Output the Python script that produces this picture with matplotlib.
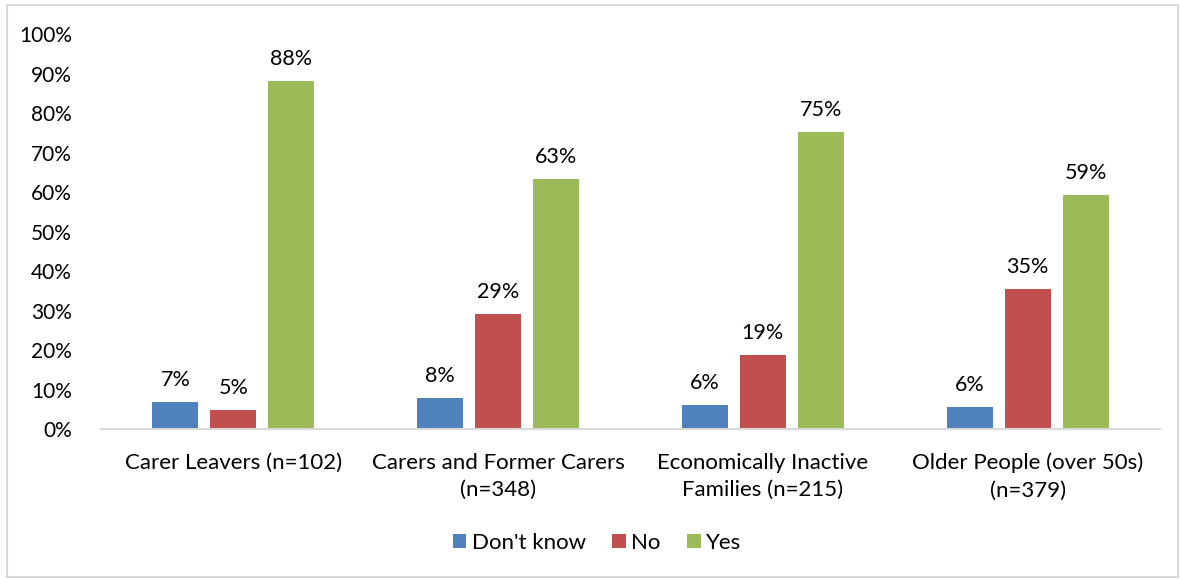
import numpy as np
import matplotlib.pyplot as plt
from matplotlib.patches import Rectangle

categories = ['Carer Leavers (n=102)', 'Carers and Former Carers\n(n=348)',
              'Economically Inactive\nFamilies (n=215)', 'Older People (over 50s)\n(n=379)']
dont_know = [7, 8, 6, 6]
no = [5, 29, 19, 35]
yes = [88, 63, 75, 59]
dont_know_h = [6.8, 7.8, 6.1, 5.6]
no_h = [4.8, 29.1, 18.7, 35.4]
yes_h = [88.1, 63.3, 75.2, 59.2]

plt.rcParams['font.family'] = ['Lato', 'DejaVu Sans']

fig = plt.figure(figsize=(11.8, 5.79), dpi=100)
ax = fig.add_axes([0.0856, 0.259, 0.8975, 0.682])

x = np.arange(len(categories))
w = 0.174
step = 0.219
series = [('Don\'t know', dont_know_h, dont_know, '#4f81bd'),
          ('No', no_h, no, '#c0504d'),
          ('Yes', yes_h, yes, '#9bbb59')]
for i, (name, h, lab, col) in enumerate(series):
    pos = x + (i - 1) * step
    ax.bar(pos, h, w, color=col, label=name)
    for p, v, l in zip(pos, h, lab):
        ax.text(p, v + 3, f'{l}%', ha='center', va='bottom', fontsize=15.5)

ax.set_xlim(-0.5, 3.5)
ax.set_ylim(0, 100)
ax.set_yticks(range(0, 101, 10))
ax.set_yticklabels([f'{t}%' for t in range(0, 101, 10)], fontsize=15)
ax.set_xticks(x)
ax.set_xticklabels(categories, fontsize=16, linespacing=1.45)
ax.tick_params(length=0)
ax.tick_params(axis='x', pad=17)
ax.tick_params(axis='y', pad=21)
for s in ['top', 'right', 'left']:
    ax.spines[s].set_visible(False)
ax.spines['bottom'].set_color('#d9d9d9')
ax.spines['bottom'].set_linewidth(1.5)

fig.legend(loc='center', bbox_to_anchor=(0.506, 0.062), ncol=3, frameon=False,
           fontsize=16, handlelength=0.6, handleheight=0.6, handletextpad=0.25,
           columnspacing=1.2)

fig.patches.append(Rectangle((0.006, 0.003), 0.992, 0.988, transform=fig.transFigure,
                             fill=False, edgecolor='#d9d9d9', linewidth=1.5))

fig.savefig('out.png', dpi=100)
